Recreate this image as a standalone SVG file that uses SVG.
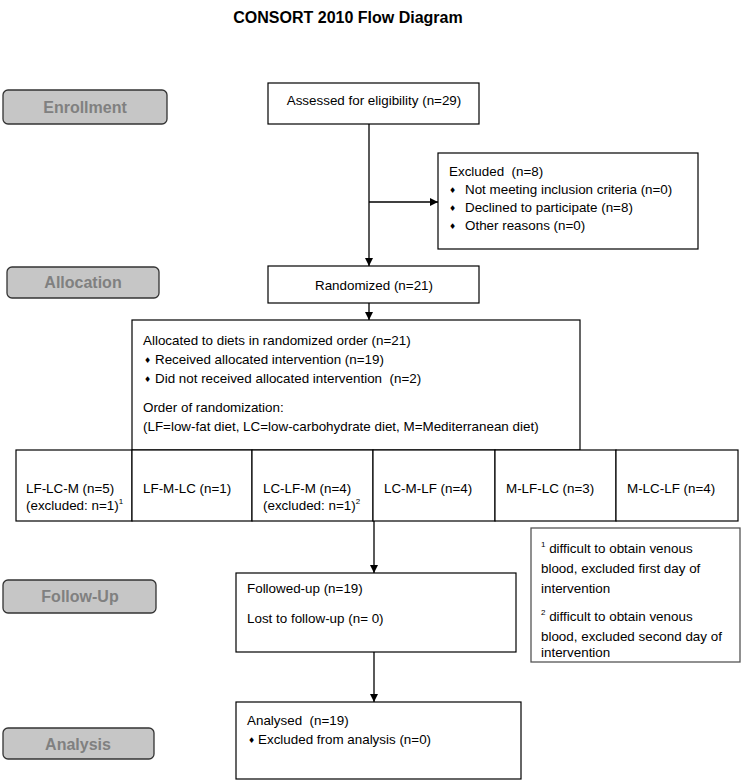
<svg xmlns="http://www.w3.org/2000/svg" width="743" height="783" viewBox="0 0 743 783">
<defs>
<marker id="ah" markerWidth="8" markerHeight="8" refX="8" refY="4" orient="auto" markerUnits="userSpaceOnUse">
<path d="M0,0 L8,4 L0,8 Z" fill="#000"/>
</marker>
<style>
.box{fill:#fff;stroke:#000;stroke-width:1.2}
.stage{fill:#c6c6c6;stroke:#333;stroke-width:1.3}
.st{font-family:"Liberation Sans",Arial,sans-serif;font-weight:bold;font-size:16px;fill:#808080;text-anchor:middle}
.t{font-family:"Liberation Sans",Arial,sans-serif;font-size:13.4px;fill:#000}
.b{font-family:"DejaVu Sans",sans-serif;font-size:8px;fill:#000}
.c{text-anchor:middle}
.sup{font-size:8px}
.ln{stroke:#000;stroke-width:1.3;fill:none}
</style>
</defs>
<rect width="743" height="783" fill="#fff"/>
<text x="348" y="23" font-family="'Liberation Sans',Arial,sans-serif" font-weight="bold" font-size="16" text-anchor="middle">CONSORT 2010 Flow Diagram</text>

<g id="stage-enrollment"><rect class="stage" x="3" y="90" width="164" height="34" rx="5"/><text class="st" x="85" y="113">Enrollment</text></g>
<g id="stage-allocation"><rect class="stage" x="7" y="267" width="152" height="31" rx="5"/><text class="st" x="83" y="288">Allocation</text></g>
<g id="stage-followup"><rect class="stage" x="3" y="580" width="153" height="33" rx="5"/><text class="st" x="80" y="602">Follow-Up</text></g>
<g id="stage-analysis"><rect class="stage" x="3" y="728" width="151" height="31" rx="5"/><text class="st" x="78" y="750">Analysis</text></g>

<g id="connectors">
<line class="ln" x1="369" y1="124" x2="369" y2="266" marker-end="url(#ah)"/>
<line class="ln" x1="369" y1="202" x2="438" y2="202" marker-end="url(#ah)"/>
<line class="ln" x1="369" y1="303" x2="369" y2="320" marker-end="url(#ah)"/>
<line class="ln" x1="374" y1="521" x2="374" y2="573" marker-end="url(#ah)"/>
<line class="ln" x1="374" y1="652" x2="374" y2="702" marker-end="url(#ah)"/>
</g>

<g id="assessed"><rect class="box" x="268" y="83" width="211" height="41"/><text class="t c" x="374" y="105">Assessed for eligibility (n=29)</text></g>

<g id="excluded"><rect class="box" x="438" y="153" width="260" height="96"/>
<text class="t" x="449" y="176" xml:space="preserve">Excluded  (n=8)</text>
<text class="b" x="449" y="193">♦</text><text class="t" x="465" y="194">Not meeting inclusion criteria (n=0)</text>
<text class="b" x="449" y="211">♦</text><text class="t" x="465" y="212">Declined to participate (n=8)</text>
<text class="b" x="449" y="229">♦</text><text class="t" x="465" y="230">Other reasons (n=0)</text>
</g>

<g id="randomized"><rect class="box" x="268" y="266" width="211" height="37"/><text class="t c" x="374" y="290">Randomized (n=21)</text></g>

<g id="allocated"><rect class="box" x="132" y="320" width="448" height="130"/>
<text class="t" x="143" y="345">Allocated to diets in randomized order (n=21)</text>
<text class="b" x="144" y="363">♦</text><text class="t" x="155" y="364">Received allocated intervention (n=19)</text>
<text class="b" x="144" y="382">♦</text><text class="t" x="155" y="383" xml:space="preserve">Did not received allocated intervention  (n=2)</text>
<text class="t" x="143" y="412">Order of randomization:</text>
<text class="t" x="143" y="431">(LF=low-fat diet, LC=low-carbohydrate diet, M=Mediterranean diet)</text>
</g>

<g id="arm-lf-lc-m"><rect class="box" x="16" y="450" width="116" height="71"/><text class="t" x="26" y="493">LF-LC-M (n=5)</text><text class="t" x="26" y="510">(excluded: n=1)<tspan class="sup" dy="-6">1</tspan></text></g>
<g id="arm-lf-m-lc"><rect class="box" x="132" y="450" width="120" height="71"/><text class="t" x="143" y="493">LF-M-LC (n=1)</text></g>
<g id="arm-lc-lf-m"><rect class="box" x="252" y="450" width="121" height="71"/><text class="t" x="263" y="493">LC-LF-M (n=4)</text><text class="t" x="263" y="510">(excluded: n=1)<tspan class="sup" dy="-6">2</tspan></text></g>
<g id="arm-lc-m-lf"><rect class="box" x="373" y="450" width="122" height="71"/><text class="t" x="384" y="493">LC-M-LF (n=4)</text></g>
<g id="arm-m-lf-lc"><rect class="box" x="495" y="450" width="121" height="71"/><text class="t" x="506" y="493">M-LF-LC (n=3)</text></g>
<g id="arm-m-lc-lf"><rect class="box" x="616" y="450" width="122" height="71"/><text class="t" x="627" y="493">M-LC-LF (n=4)</text></g>

<g id="footnotes"><rect x="531" y="528" width="209" height="134" fill="#fff" stroke="#555" stroke-width="1.3"/>
<text class="t" x="541" y="553"><tspan class="sup" dy="-6">1</tspan><tspan dy="6"> difficult to obtain venous</tspan></text>
<text class="t" x="541" y="573">blood, excluded first day of</text>
<text class="t" x="541" y="593">intervention</text>
<text class="t" x="541" y="621"><tspan class="sup" dy="-6">2</tspan><tspan dy="6"> difficult to obtain venous</tspan></text>
<text class="t" x="541" y="641">blood, excluded second day of</text>
<text class="t" x="541" y="661" dy="-4">intervention</text>
</g>

<g id="followed-up"><rect class="box" x="236" y="573" width="280" height="79"/>
<text class="t" x="247" y="593">Followed-up (n=19)</text>
<text class="t" x="247" y="623">Lost to follow-up (n= 0)</text>
</g>

<g id="analysed"><rect class="box" x="236" y="702" width="285" height="77"/>
<text class="t" x="247" y="725" xml:space="preserve">Analysed  (n=19)</text>
<text class="b" x="248" y="743">♦</text><text class="t" x="258" y="744">Excluded from analysis (n=0)</text>
</g>
</svg>
